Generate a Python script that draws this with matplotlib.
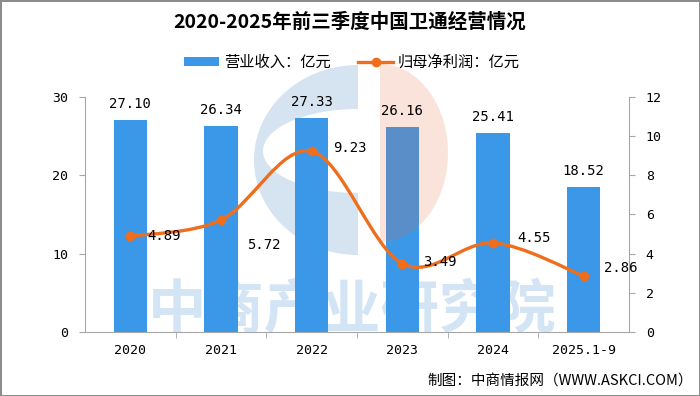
import numpy as np
import matplotlib
matplotlib.use('Agg')
import matplotlib.pyplot as plt
from matplotlib.path import Path
from matplotlib.patches import PathPatch, Polygon, Patch
from matplotlib.lines import Line2D

plt.rcParams['font.family'] = ['Noto Sans CJK SC', 'DejaVu Sans']

# 数据
years = ['2020', '2021', '2022', '2023', '2024', '2025.1-9']
revenue = [27.10, 26.34, 27.33, 26.16, 25.41, 18.52]      # 营业收入 亿元
net_profit = [4.89, 5.72, 9.23, 3.49, 4.55, 2.86]         # 归母净利润 亿元

BAR_C = '#3b98e8'
LINE_C = '#ef6e1e'
AXIS_C = '#a6a6a6'
MONO = 'DejaVu Sans Mono'


def smooth_path(xs, ys):
    # excel 平滑线: Catmull-Rom 转三次贝塞尔
    pts = np.column_stack([xs, ys]).astype(float)
    n = len(pts)
    verts = [pts[0]]
    codes = [Path.MOVETO]
    for i in range(n - 1):
        p0 = pts[max(i - 1, 0)]
        p1 = pts[i]
        p2 = pts[i + 1]
        p3 = pts[min(i + 2, n - 1)]
        verts += [p1 + (p2 - p0) / 6, p2 - (p3 - p1) / 6, p2]
        codes += [Path.CURVE4] * 3
    return Path(verts, codes)


fig = plt.figure(figsize=(7, 3.96), dpi=100)
fig.patch.set_facecolor('white')
fig.patch.set_edgecolor('#8c8c8c')
fig.patch.set_linewidth(2)

# 水印层 (像素坐标)
bg = fig.add_axes([0, 0, 1, 1], zorder=0)
bg.set_xlim(0, 700)
bg.set_ylim(396, 0)
bg.axis('off')

t1 = np.radians(np.linspace(90, 270, 80))
t2 = np.radians(np.linspace(270, 90, 80))
c_outer = np.column_stack([358 + 104 * np.cos(t1), 160 - 95 * np.sin(t1)])
c_inner = np.column_stack([358 + 95 * np.cos(t2), 151 - 42 * np.sin(t2)])
bg.add_patch(Polygon(np.vstack([c_outer, c_inner]), closed=True,
                     facecolor='#d5e4f0', edgecolor='none'))
bg.text(352, 311, '中商产业研究院', ha='center', va='center', fontsize=42,
        fontweight='bold', color='#d3e5f5')

# 主图
x = np.arange(len(years))
ax = fig.add_axes([85 / 700, 1 - 332 / 396, 544 / 700, 235 / 396], zorder=1)
ax.patch.set_visible(False)
ax.bar(x, revenue, width=0.37, color=BAR_C, zorder=2)
ax.set_xlim(-0.5, 5.5)
ax.set_ylim(0, 30)
ax.set_yticks([0, 10, 20, 30])

t3 = np.radians(np.linspace(-90, 90, 80))
half = np.column_stack([380 + 68 * np.cos(t3), 153 - 89 * np.sin(t3)])
ax.add_patch(Polygon(half, closed=True, facecolor='#e8663a', edgecolor='none',
                     alpha=0.18, transform=bg.transData, clip_on=False, zorder=3))

for i, v in enumerate(revenue):
    ax.annotate('{:.2f}'.format(v), (i, v), xytext=(0, 9), textcoords='offset pixels',
                ha='center', va='bottom', fontsize=10, family=MONO)

ax2 = ax.twinx()
ax2.set_zorder(2)
ax2.patch.set_visible(False)
ax2.set_ylim(0, 12)
ax2.set_yticks(range(0, 13, 2))
ax2.add_patch(PathPatch(smooth_path(x, net_profit), fill=False, edgecolor=LINE_C,
                        lw=2.4, capstyle='round'))
ax2.plot(x, net_profit, 'o', color=LINE_C, ms=6)

label_offsets = [(17, 0), (26, -25), (21, 3), (21, 2), (24, 5), (20, 8)]
for i, v in enumerate(net_profit):
    ax2.annotate('{:.2f}'.format(v), (i, v), xytext=label_offsets[i],
                 textcoords='offset pixels', ha='left', va='center',
                 fontsize=10, family=MONO)

# 坐标轴样式
for a in (ax, ax2):
    a.spines['top'].set_visible(False)
ax.spines['right'].set_visible(False)
ax2.spines['left'].set_visible(False)
ax2.spines['bottom'].set_visible(False)
ax.spines['left'].set_color(AXIS_C)
ax.spines['bottom'].set_color(AXIS_C)
ax2.spines['right'].set_color(AXIS_C)

ax.set_xticks(x)
ax.set_xticklabels(years, family=MONO, fontsize=9.5)
ax.set_xticks(np.arange(0.5, 5, 1), minor=True)
ax.tick_params(axis='x', which='major', length=0, pad=9)
ax.tick_params(axis='x', which='minor', length=4, color=AXIS_C)
ax.tick_params(axis='y', length=4, color=AXIS_C, labelsize=9.5, pad=8)
ax2.tick_params(axis='y', length=4, color=AXIS_C, labelsize=9.5, pad=8)
for lab in ax.get_yticklabels() + ax2.get_yticklabels():
    lab.set_fontfamily(MONO)

handles = [Patch(facecolor=BAR_C),
           Line2D([0], [0], color=LINE_C, lw=2.4, marker='o', ms=6)]
fig.legend(handles, ['营业收入：亿元', '归母净利润：亿元'], loc='center',
           bbox_to_anchor=(0.503, 0.843), ncol=2, frameon=False, fontsize=11,
           handlelength=2.3, handleheight=0.55, columnspacing=1.8, handletextpad=0.3)

fig.text(0.5, 1 - 22 / 396, '2020-2025年前三季度中国卫通经营情况', ha='center',
         va='center', fontsize=14, fontweight='bold')
fig.text(693 / 700, 1 - 381 / 396, '制图：中商情报网（WWW.ASKCI.COM）', ha='right',
         va='center', fontsize=10.5)

fig.savefig('out.png', dpi=100)
